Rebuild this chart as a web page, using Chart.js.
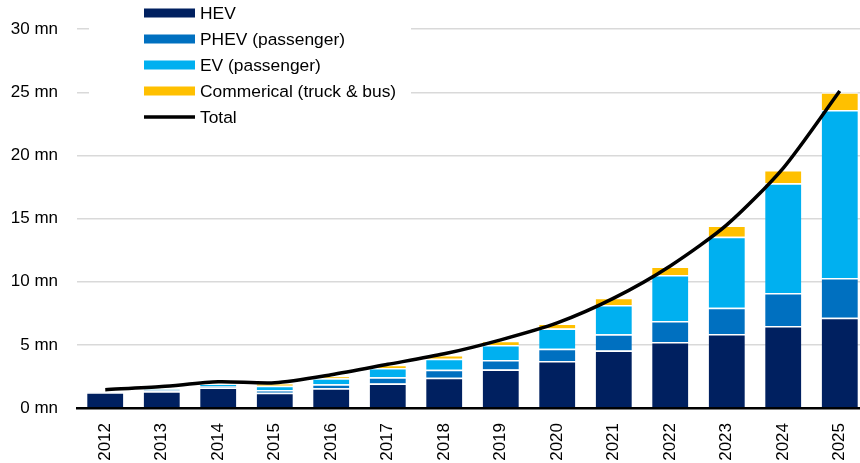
<!DOCTYPE html>
<html>
<head>
<meta charset="utf-8">
<script src="https://cdn.jsdelivr.net/npm/chart.js@4.4.1/dist/chart.umd.min.js"></script>
<style>
  html, body { margin: 0; padding: 0; background: #fff; overflow: hidden; }
  #wrap { width: 868px; height: 463px; position: relative; }
</style>
</head>
<body>
<div id="wrap"><canvas id="myChart"></canvas></div>
<script>
// values in millions
const years = ["2012","2013","2014","2015","2016","2017","2018","2019","2020","2021","2022","2023","2024","2025"];
const hev = [1.25,1.33,1.62,1.2,1.57,1.94,2.4,3.05,3.72,4.55,5.22,5.87,6.5,7.15];
const phev = [0.03,0.08,0.13,0.23,0.31,0.5,0.62,0.75,0.98,1.29,1.68,2.06,2.6,3.15];
const ev = [0.02,0.08,0.13,0.34,0.47,0.72,0.88,1.18,1.6,2.32,3.64,5.64,8.7,13.3];
const commercial = [0.01,0.02,0.05,0.18,0.18,0.26,0.3,0.35,0.4,0.57,0.66,0.88,1.05,1.4];
const total = [1.45,1.7,2.07,2.0,2.64,3.46,4.29,5.4,6.74,8.7,11.25,14.5,19.0,25.1];
const yTicks = [0,5,10,15,20,25,30];

const FONT = '"Liberation Sans", Arial, sans-serif';

// legend box in the top left, drawn on a white patch over the grid
const boxLegend = {
  id: 'boxLegend',
  afterDraw(chart) {
    const ctx = chart.ctx;
    ctx.save();
    ctx.fillStyle = '#fff';
    ctx.fillRect(89, 0, 322, 128);
    const items = [0,1,2,3,4].map(i => chart.data.datasets[i]);
    // bars first in legend, line last
    const order = [items[1], items[2], items[3], items[4], items[0]];
    order.forEach((ds, i) => {
      const y = 13 + i * 26;
      if (ds.type === 'line') {
        ctx.fillStyle = ds.borderColor;
        ctx.fillRect(144, y - 1.75, 51, 3.5);
      } else {
        ctx.fillStyle = ds.backgroundColor;
        ctx.fillRect(144, y - 4.5, 51, 9);
      }
      ctx.fillStyle = '#000';
      ctx.font = '17.4px ' + FONT;
      ctx.textBaseline = 'middle';
      ctx.fillText(ds.label, 200, y + 1);
    });
    ctx.restore();
  }
};

const barBorder = { top: 1.5, right: 0, bottom: 0, left: 0 };

var ctx = document.getElementById("myChart").getContext("2d");
var myChart = new Chart(ctx, {
  data: {
    labels: years,
    datasets: [
      {
        type: "line",
        label: "Total",
        data: total,
        stack: "total",
        borderColor: "#000000",
        borderWidth: 3.5,
        pointRadius: 0,
        tension: 0.25,
        order: 0,
      },
      {
        type: "bar", label: "HEV", data: hev, stack: "ev",
        backgroundColor: "#002060", borderColor: "#ffffff", borderWidth: barBorder, order: 1,
      },
      {
        type: "bar", label: "PHEV (passenger)", data: phev, stack: "ev",
        backgroundColor: "#0070C0", borderColor: "#ffffff", borderWidth: barBorder, order: 1,
      },
      {
        type: "bar", label: "EV (passenger)", data: ev, stack: "ev",
        backgroundColor: "#00B0F0", borderColor: "#ffffff", borderWidth: barBorder, order: 1,
      },
      {
        type: "bar", label: "Commerical (truck & bus)", data: commercial, stack: "ev",
        backgroundColor: "#FFC000", borderColor: "#ffffff", borderWidth: barBorder, order: 1,
      },
    ],
  },
  options: {
    responsive: true,
    maintainAspectRatio: false,
    animation: false,
    layout: { padding: { top: 5, left: 0, right: 0, bottom: 0 } },
    datasets: {
      bar: { categoryPercentage: 1, barPercentage: 0.64, borderSkipped: false },
    },
    plugins: {
      legend: { display: false },
      tooltip: { enabled: false },
    },
    scales: {
      x: {
        stacked: true,
        grid: { display: false },
        border: { display: true, color: "#000000", width: 2.5 },
        afterFit: (axis) => { axis.height = 55; },
        ticks: {
          color: "#000",
          font: { family: FONT, size: 17 },
          maxRotation: 90,
          minRotation: 90,
          padding: 7,
        },
      },
      y: {
        stacked: true,
        min: 0,
        max: 30,
        afterBuildTicks: (axis) => { axis.ticks = yTicks.map(v => ({ value: v })); },
        afterFit: (axis) => { axis.width = 77; },
        grid: { color: "#d9d9d9", lineWidth: 1.5, drawTicks: false },
        border: { display: false },
        ticks: {
          color: "#000",
          font: { family: FONT, size: 17 },
          padding: 19,
          callback: (v) => v + " mn",
        },
      },
    },
  },
  plugins: [boxLegend],
});
</script>
</body>
</html>
